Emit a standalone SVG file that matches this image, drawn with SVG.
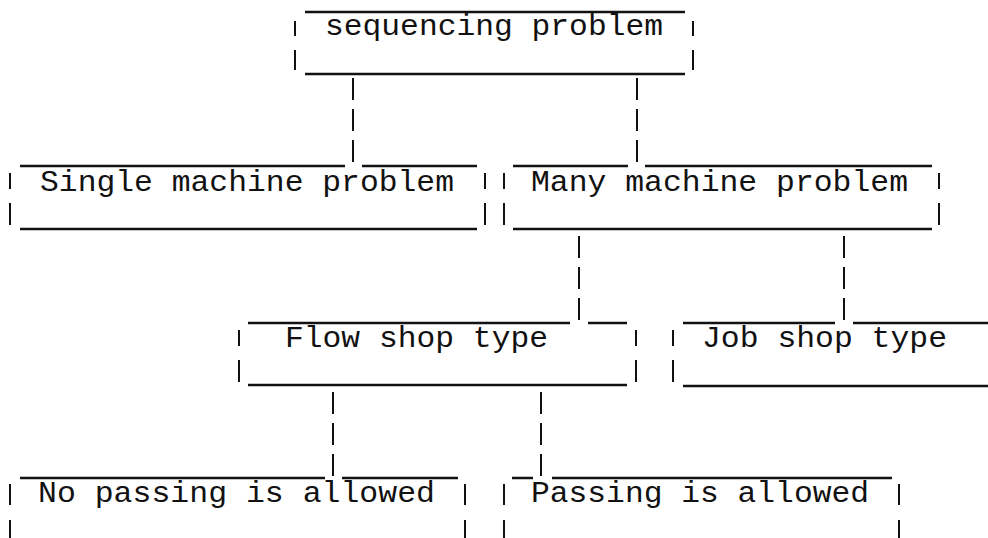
<svg xmlns="http://www.w3.org/2000/svg" width="988" height="538" viewBox="0 0 988 538">
<style>
.h{stroke:#111;stroke-width:2.4;fill:none}
.v{stroke:#111;stroke-width:2;fill:none}
.c{stroke:#111;stroke-width:2;fill:none;stroke-dasharray:22 9}
text{font-family:"Liberation Mono","DejaVu Sans Mono",monospace;font-size:29px;fill:#111}
</style>
<rect width="988" height="538" fill="#fff"/>
<g id="connectors">
<line class="c" x1="353" y1="78" x2="353" y2="163"/>
<line class="c" x1="637" y1="78" x2="637" y2="163"/>
<line class="c" x1="579" y1="236" x2="579" y2="320"/>
<line class="c" x1="844" y1="236" x2="844" y2="320"/>
<line class="c" x1="333" y1="392" x2="333" y2="476"/>
<line class="c" x1="541" y1="392" x2="541" y2="476"/>
</g>
<g id="sequencing">
<line class="h" x1="305" y1="12" x2="685" y2="12"/>
<line class="h" x1="305" y1="74" x2="685" y2="74"/>
<path class="v" d="M295 21V36M295 50V70M693 21V36M693 50V70"/>
<text x="325" y="35" textLength="338" lengthAdjust="spacingAndGlyphs">sequencing problem</text>
</g>
<g id="single">
<path class="h" d="M20 166H345M362 166H477M20 229H477"/>
<path class="v" d="M10 173V189M10 203V225M485 173V189M485 203V225"/>
<text x="40" y="191" textLength="414" lengthAdjust="spacingAndGlyphs">Single machine problem</text>
</g>
<g id="many">
<path class="h" d="M513 166H628M645 166H932M513 229H932"/>
<path class="v" d="M504 173V189M504 203V225M939 173V189M939 203V225"/>
<text x="531" y="191" textLength="377" lengthAdjust="spacingAndGlyphs">Many machine problem</text>
</g>
<g id="flow">
<path class="h" d="M248 323H570M588 323H627M248 385H627"/>
<path class="v" d="M239 330V346M239 360V382M636 330V346M636 360V382"/>
<text x="285" y="347" textLength="263" lengthAdjust="spacingAndGlyphs">Flow shop type</text>
</g>
<g id="job">
<path class="h" d="M683 323H835M853 323H988M683 386H988"/>
<path class="v" d="M673 330V346M673 360V382"/>
<text x="702" y="347" textLength="245" lengthAdjust="spacingAndGlyphs">Job shop type</text>
</g>
<g id="nopassing">
<path class="h" d="M20 478H325M342 478H458"/>
<path class="v" d="M10 484V505M10 520V538M465 484V505M465 520V538"/>
<text x="38" y="502" textLength="397" lengthAdjust="spacingAndGlyphs">No passing is allowed</text>
</g>
<g id="passing">
<path class="h" d="M512 478H533M552 478H892"/>
<path class="v" d="M504 484V505M504 520V538M899 484V505M899 520V538"/>
<text x="531" y="502" textLength="338" lengthAdjust="spacingAndGlyphs">Passing is allowed</text>
</g>
</svg>
